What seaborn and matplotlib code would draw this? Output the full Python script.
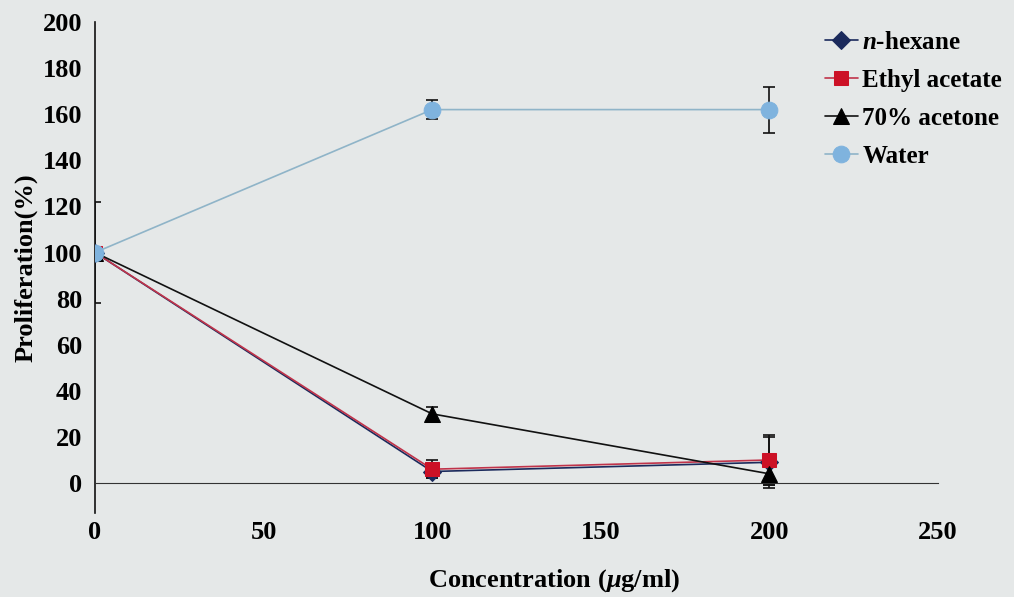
import numpy as np
import pandas as pd
import matplotlib
matplotlib.use("Agg")
import matplotlib.pyplot as plt
import seaborn as sns

# ---- data ----
concentration = [0, 100, 200]
hexane = [100, 5, 9]
hexane_err = [22, 3, 11]
ethyl = [100, 6, 10]
ethyl_err = [2, 4, 11]
acetone = [100, 30, 4]
acetone_err = [2, 3, 5]
water = [100, 162, 162]
water_err = [2, 4, 10]
series_names = ["$\\mathit{n}$-hexane", "Ethyl acetate", "70% acetone", "Water"]
x_ticks = [0, 50, 100, 150, 200, 250]
y_ticks = [0, 20, 40, 60, 80, 100, 120, 140, 160, 180, 200]

sns.set_style("white")
plt.rcParams['font.family'] = ['Liberation Serif', 'DejaVu Serif']
plt.rcParams['mathtext.fontset'] = 'custom'
plt.rcParams['mathtext.it'] = 'Liberation Serif:italic:bold'
plt.rcParams['mathtext.rm'] = 'Liberation Serif:bold'
plt.rcParams['text.color'] = 'black'
plt.rcParams['axes.labelcolor'] = 'black'

bg = "#e5e8e8"
fig = plt.figure(figsize=(10.14, 5.97), dpi=100, facecolor=bg)
ax = fig.add_axes([95/1014, 1 - 513/597, (938-95)/1014, (513-22)/597])
ax.set_facecolor(bg)

vals = [hexane, ethyl, acetone, water]
errs = [hexane_err, ethyl_err, acetone_err, water_err]
rows = []
for name, v in zip(series_names, vals):
    for c, y in zip(concentration, v):
        rows.append({"conc": c, "prolif": y, "series": name})
df = pd.DataFrame(rows)

styles = {
    series_names[0]: dict(marker="D", mfc="#1b2a5c", lc="#1b2a5c", ms=9),
    series_names[1]: dict(marker="s", mfc="#cc1126", lc="#c0334a", ms=10),
    series_names[2]: dict(marker="^", mfc="#000000", lc="#111111", ms=11),
    series_names[3]: dict(marker="o", mfc="#7fb3de", lc="#8fb4c8", ms=12),
}

for name, e in zip(series_names, errs):
    st = styles[name]
    sub = df[df.series == name]
    ax.errorbar(sub.conc, sub.prolif, yerr=e, fmt="none", ecolor="#111111",
                elinewidth=1.2, capsize=4, capthick=1.2, zorder=2)
    sns.lineplot(data=sub, x="conc", y="prolif", ax=ax, color=st["lc"],
                 marker=st["marker"], markersize=st["ms"],
                 markerfacecolor=st["mfc"], markeredgecolor=st["mfc"],
                 linewidth=1.2, label=name, zorder=3)

ax.set_xlim(0, 250)
ax.set_ylim(-13, 200)
ax.set_xticks(x_ticks)
ax.set_yticks(y_ticks)

for s in ["top", "right"]:
    ax.spines[s].set_visible(False)
ax.spines["bottom"].set_position(("data", 0))
ax.spines["bottom"].set_color("#333333")
ax.spines["left"].set_color("#111111")
ax.spines["left"].set_linewidth(1.2)
ax.tick_params(axis="y", direction="in", length=6, width=1, pad=9,
               labelsize=19, colors="black")
ax.tick_params(axis="x", direction="in", length=6, width=1, pad=27,
               labelsize=19, colors="black")
for lab in ax.get_xticklabels() + ax.get_yticklabels():
    lab.set_fontweight("bold")

ax.set_xlabel("Concentration ($\\mu$g/ml)", fontsize=19, fontweight="bold")
ax.set_ylabel("Proliferation(%)", fontsize=19, fontweight="bold")
ax.xaxis.set_label_coords(0.545, -0.11)
ax.yaxis.set_label_coords(-0.068, 0.5)

leg = ax.legend(loc="upper left", bbox_to_anchor=(815/1014, 1 - 21/597),
                bbox_transform=fig.transFigure, frameon=False,
                prop={"family": "Liberation Serif", "weight": "bold", "size": 18},
                handlelength=1.3, handletextpad=0.2, labelspacing=0.6,
                borderaxespad=0)

fig.savefig("out.png", dpi=100, facecolor=bg)
